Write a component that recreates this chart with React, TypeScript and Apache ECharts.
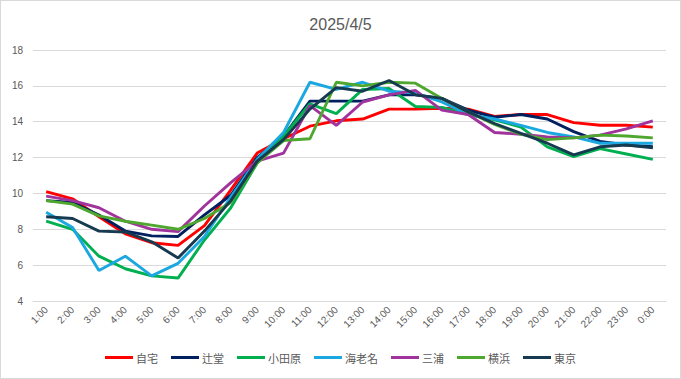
import React, { useEffect, useRef } from "react";
import * as echarts from "echarts";

const hours = ["1:00","2:00","3:00","4:00","5:00","6:00","7:00","8:00","9:00","10:00","11:00","12:00","13:00","14:00","15:00","16:00","17:00","18:00","19:00","20:00","21:00","22:00","23:00","0:00"];

const jitaku = [10.1,9.7,8.7,7.75,7.25,7.1,8.2,10.2,12.25,13.05,13.75,14.05,14.15,14.7,14.7,14.75,14.7,14.3,14.4,14.4,13.95,13.8,13.8,13.7];
const tsujido = [9.6,9.5,8.8,7.9,7.63,7.6,8.8,9.9,12.0,13.2,15.15,15.15,15.15,15.5,15.5,15.3,14.65,14.25,14.4,14.15,13.45,12.9,12.7,12.6];
const odawara = [8.45,8.0,6.5,5.8,5.4,5.28,7.4,9.2,11.7,13.2,15.0,14.45,15.8,15.85,14.85,14.8,14.4,14.1,13.7,12.6,12.05,12.5,12.2,11.9];
const ebina = [8.95,8.1,5.7,6.5,5.4,6.1,7.6,9.8,11.9,13.4,16.2,15.8,16.2,15.7,15.6,15.1,14.4,14.15,13.8,13.4,13.15,12.8,12.8,12.8];
const miura = [9.85,9.6,9.2,8.45,8.0,7.87,9.3,10.6,11.8,12.25,14.9,13.8,15.1,15.5,15.75,14.65,14.4,13.4,13.3,13.15,13.1,13.25,13.6,14.05];
const yokohama = [9.6,9.4,8.75,8.45,8.23,8.0,8.6,9.5,11.7,12.95,13.05,16.2,16.0,16.2,16.15,15.3,14.55,13.85,13.3,13.0,13.1,13.25,13.2,13.1];
const tokyo = [8.7,8.6,7.9,7.85,7.3,6.4,7.9,9.6,11.8,13.0,14.7,15.9,15.7,16.3,15.5,15.3,14.55,13.9,13.35,12.8,12.15,12.6,12.7,12.55];

const seriesNames = ["自宅","辻堂","小田原","海老名","三浦","横浜","東京"];
const seriesData = [jitaku, tsujido, odawara, ebina, miura, yokohama, tokyo];
const colors = ["#FF0000","#002060","#00B050","#1BA7E0","#A0339C","#4EA72E","#163A50"];

const yTicks = { min: 4, max: 18, interval: 2 };

export default function App() {
  const ref = useRef<HTMLDivElement>(null);
  useEffect(() => {
    document.body.style.margin = "0";
    const chart = echarts.init(ref.current!, null, { renderer: "svg" });
    chart.setOption({
      animation: false,
      backgroundColor: "#ffffff",
      textStyle: { fontFamily: "'Noto Sans CJK JP', 'Liberation Sans', sans-serif" },
      title: {
        text: "2025/4/5",
        left: "center",
        top: 10,
        textStyle: { fontSize: 16, fontWeight: "normal", color: "#595959", fontFamily: "'Liberation Sans', sans-serif" },
      },
      legend: {
        data: seriesNames,
        bottom: 10,
        left: "center",
        icon: "rect",
        itemWidth: 28,
        itemHeight: 3,
        itemGap: 13,
        textStyle: { fontSize: 11, color: "#595959", padding: [0, 0, 0, -2] },
      },
      grid: { left: 32, right: 14, top: 49, bottom: 77 },
      xAxis: {
        type: "category",
        data: hours,
        boundaryGap: true,
        axisLine: { lineStyle: { color: "#D9D9D9", width: 1 } },
        axisTick: { show: false },
        axisLabel: { rotate: 45, fontSize: 10, color: "#595959", margin: 7, interval: 0, fontFamily: "'Liberation Sans', sans-serif" },
      },
      yAxis: {
        type: "value",
        min: yTicks.min,
        max: yTicks.max,
        interval: yTicks.interval,
        axisLine: { show: false },
        axisTick: { show: false },
        splitLine: { lineStyle: { color: "#D9D9D9", width: 1 } },
        axisLabel: { fontSize: 10, color: "#595959", margin: 10, fontFamily: "'Liberation Sans', sans-serif" },
      },
      series: seriesNames.map((name, i) => ({
        name,
        type: "line",
        data: seriesData[i],
        symbol: "none",
        color: colors[i],
        lineStyle: { width: 2.9, color: colors[i] },
      })),
    });
    return () => chart.dispose();
  }, []);
  return (
    <div
      ref={ref}
      style={{ position: "absolute", left: 0, top: 0, width: 679, height: 377, border: "1px solid #D9D9D9" }}
    />
  );
}
